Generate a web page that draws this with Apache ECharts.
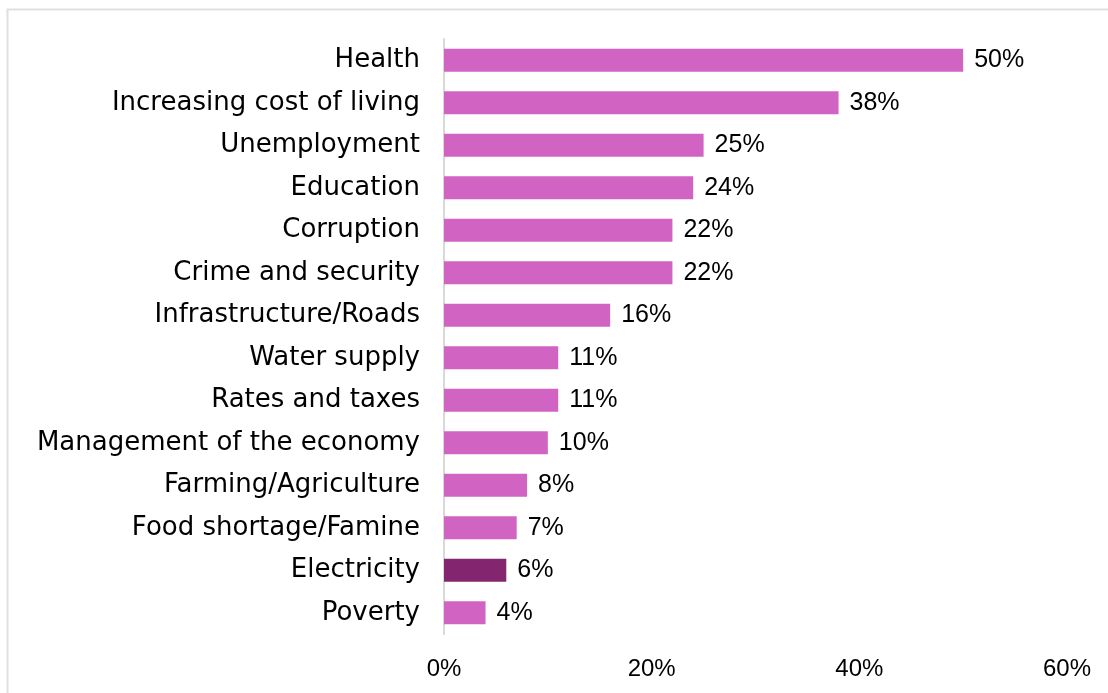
<!DOCTYPE html>
<html>
<head>
<meta charset="utf-8">
<script src="https://cdn.jsdelivr.net/npm/echarts@6/dist/echarts.min.js"></script>
<style>
  html, body { margin: 0; padding: 0; background: #ffffff; }
  #chart { width: 1108px; height: 693px; }
</style>
</head>
<body>
<div id="chart"></div>
<script>
// Issues, listed top to bottom
const categories = [
  'Health',
  'Increasing cost of living',
  'Unemployment',
  'Education',
  'Corruption',
  'Crime and security',
  'Infrastructure/Roads',
  'Water supply',
  'Rates and taxes',
  'Management of the economy',
  'Farming/Agriculture',
  'Food shortage/Famine',
  'Electricity',
  'Poverty'
];
// Share of respondents (%)
const values = [50, 38, 25, 24, 22, 22, 16, 11, 11, 10, 8, 7, 6, 4];
const highlighted = 'Electricity';
const xTicks = [0, 20, 40, 60];

const LABEL_FONT = 'DejaVu Sans';
const NUM_FONT = 'Liberation Sans';
const PINK = '#D163C3';
const PLUM = '#84256F';

// category axis runs bottom-up, so reverse to keep Health on top
const cats = categories.slice().reverse();
const vals = values.slice().reverse();

const chart = echarts.init(document.getElementById('chart'), null, { renderer: 'canvas' });
chart.setOption({
  animation: false,
  backgroundColor: '#ffffff',
  graphic: [{
    type: 'rect',
    shape: { x: 7.5, y: 9.5, width: 1200, height: 800 },
    style: { fill: 'none', stroke: '#E0E0E0', lineWidth: 2 },
    silent: true
  }],
  grid: { left: 444, right: 41, top: 39, bottom: 59, containLabel: false },
  xAxis: {
    type: 'value',
    min: xTicks[0],
    max: xTicks[xTicks.length - 1],
    interval: xTicks[1] - xTicks[0],
    axisLine: { show: false },
    axisTick: { show: false },
    splitLine: { show: false },
    axisLabel: {
      formatter: '{value}%',
      color: '#000000',
      fontFamily: NUM_FONT,
      fontSize: 24,
      margin: 23
    }
  },
  yAxis: {
    type: 'category',
    data: cats,
    axisLine: { show: true, lineStyle: { color: '#D9D9D9', width: 2 } },
    axisTick: { show: false },
    axisLabel: {
      color: '#000000',
      fontFamily: LABEL_FONT,
      fontSize: 26,
      margin: 24
    }
  },
  series: [{
    type: 'bar',
    data: vals.map((v, i) => ({
      value: v,
      itemStyle: { color: cats[i] === highlighted ? PLUM : PINK }
    })),
    barCategoryGap: '46%',
    label: {
      show: true,
      position: 'right',
      distance: 11,
      formatter: '{c}%',
      color: '#000000',
      fontFamily: NUM_FONT,
      fontSize: 25
    }
  }]
});
</script>
</body>
</html>
